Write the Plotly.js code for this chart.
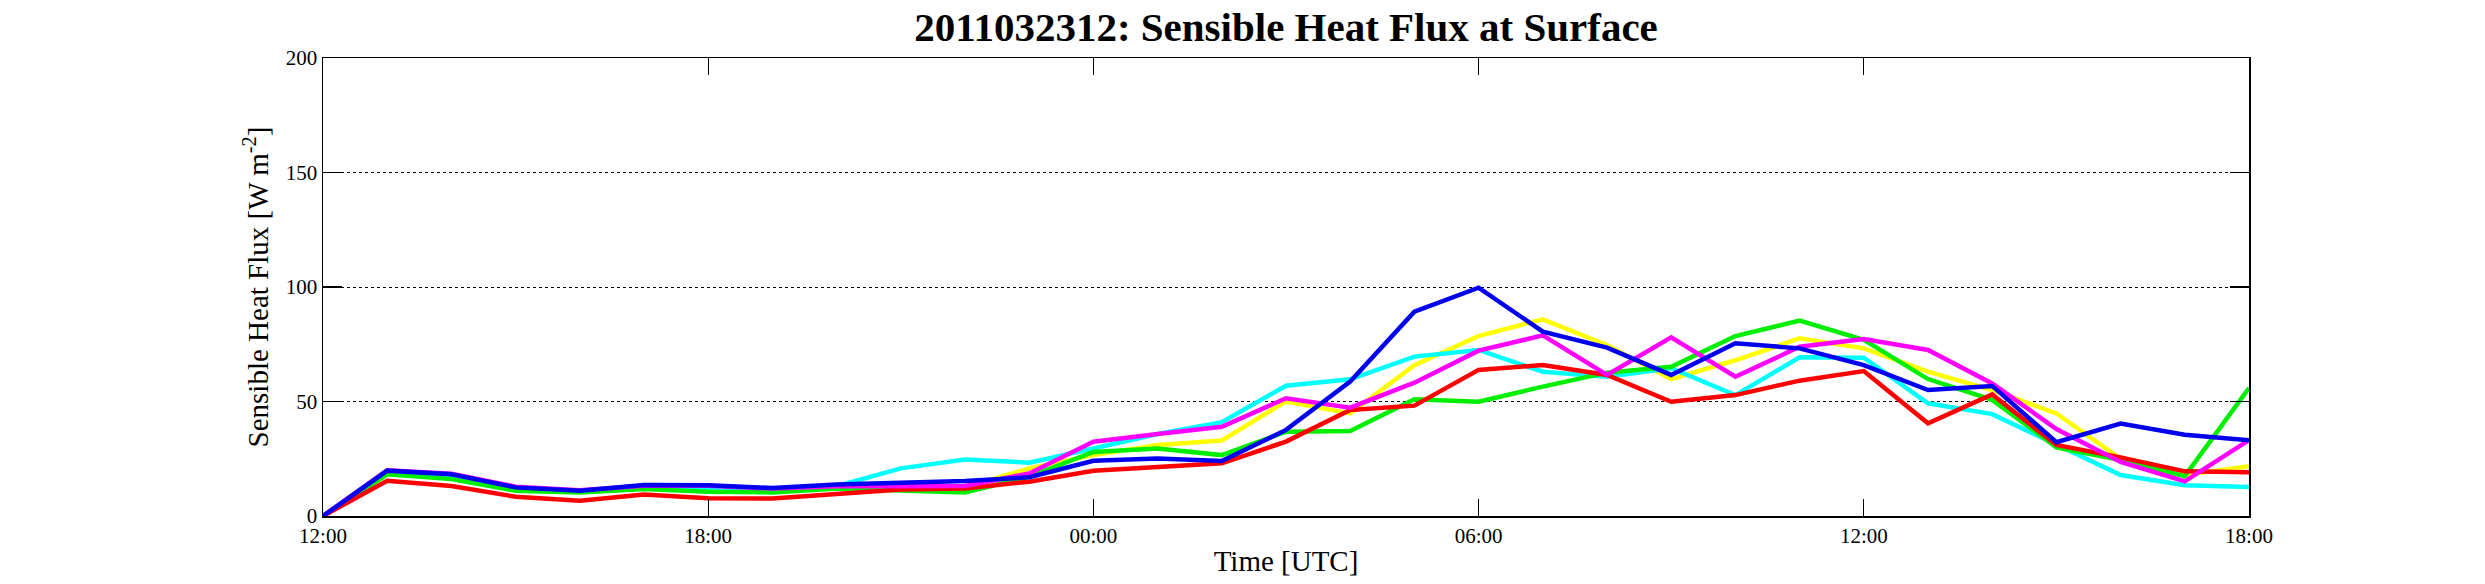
<!DOCTYPE html>
<html>
<head>
<meta charset="utf-8">
<script src="https://cdn.plot.ly/plotly-3.0.1.min.js"></script>
<style>
  html, body { margin: 0; padding: 0; background: #fff; }
  #graph { width: 2485px; height: 584px; }
</style>
</head>
<body>
<div id="graph"></div>
<script>
// hourly values, 2011-03-23 12:00 .. 2011-03-24 18:00 (31 points)
var startTime = "2011-03-23 12:00";
var endTime = "2011-03-24 18:00";
var hoursCount = 31;

var yellowFlux = [0, 18.5, 16.5, 11.5, 10.5, 12, 11, 10.5, 12.5, 12, 12.5, 20.8, 26.6, 31, 33,
    50, 44.8, 65.9, 78.6, 85.9, 74.7, 59.8, 68, 77.6, 73.2, 63, 55, 44.8, 25, 17.9, 21.7];
var cyanFlux = [0, 19, 17, 12, 10.8, 12.5, 12, 11, 13, 20.8, 24.7, 23.3, 29.5, 35.8, 41,
    56.9, 59.7, 69.6, 72.5, 63, 60.8, 64.5, 52.8, 69.3, 69.1, 49.2, 44.5, 31, 17.9, 13.4, 12.7];
var greenFlux = [0, 18.2, 16.1, 11, 10.3, 11.8, 10.6, 10.3, 12, 11.3, 10.3, 17.2, 28, 29.5, 26.6,
    36.8, 37.1, 51, 49.9, 56.5, 62.6, 65.2, 78.6, 85.3, 76.9, 59.8, 50.7, 30, 24.4, 17.4, 55.9];
var redFlux = [0, 15.4, 13.1, 8.4, 6.7, 9.4, 7.8, 7.6, 9.6, 11.6, 12, 15, 19.8, 21.2, 23,
    32.5, 46.3, 48.2, 63.8, 65.9, 61.6, 49.9, 52.8, 59.1, 63.3, 40.5, 53.1, 31, 25.6, 19.5, 19.1];
var magentaFlux = [0, 20, 18.5, 12.8, 11.2, 13.2, 13.2, 12, 13, 13, 13.1, 18.6, 32.4, 35.8, 39,
    51.4, 47.3, 58.2, 72.2, 78.9, 61.6, 78, 60.8, 73.9, 77.3, 72.5, 57.9, 38, 23.6, 15.1, 33.1];
var blueFlux = [0, 19.8, 18.2, 12.5, 11, 13.5, 13.4, 12.2, 13.8, 14.5, 15.3, 16.9, 24.1, 25.1, 24,
    37.6, 58.7, 89.2, 99.7, 80.5, 73.5, 61.6, 75.4, 73.2, 65.9, 55, 56.8, 32.2, 40.4, 35.5, 33.1];

var yTicks = [0, 50, 100, 150, 200];

function getTimeList() {
    let t0 = new Date(2011, 2, 23, 12, 0, 0);
    let list = [];
    for (let i = 0; i < hoursCount; i++) {
        let d = new Date(t0.getTime() + i * 3600 * 1000);
        let pad = n => (n < 10 ? '0' : '') + n;
        list.push(d.getFullYear() + '-' + pad(d.getMonth() + 1) + '-' + pad(d.getDate()) +
            ' ' + pad(d.getHours()) + ':00');
    }
    return list;
}

function makeLine(values, color) {
    return {
        x: getTimeList(),
        y: values,
        type: 'scatter',
        mode: 'lines',
        line: { color: color, width: 4.5 },
        hoverinfo: 'skip'
    };
}

var data = [
    makeLine(yellowFlux, '#ffff00'),
    makeLine(cyanFlux, '#00ffff'),
    makeLine(greenFlux, '#00ee00'),
    makeLine(redFlux, '#ff0000'),
    makeLine(magentaFlux, '#ff00ff'),
    makeLine(blueFlux, '#0000ee')
];

var font = 'Liberation Serif, Times New Roman, serif';

var layout = {
    width: 2485,
    height: 584,
    showlegend: false,
    paper_bgcolor: '#ffffff',
    plot_bgcolor: '#ffffff',
    margin: { l: 323, r: 236, t: 58, b: 68 },
    title: {
        text: '2011032312: Sensible Heat Flux at Surface',
        font: { family: font, size: 41, color: '#000', weight: 'bold' },
        x: 0.5, xref: 'paper', xanchor: 'center',
        y: 1 - 27 / 584, yref: 'container', yanchor: 'middle'
    },
    xaxis: {
        type: 'date',
        range: [startTime, endTime],
        dtick: 6 * 3600 * 1000,
        tick0: startTime,
        tickformat: '%H:%M',
        ticks: 'inside',
        ticklen: 17,
        tickwidth: 1.2,
        tickcolor: '#000',
        showline: true,
        linecolor: '#000',
        linewidth: 1.5,
        mirror: 'ticks',
        showgrid: false,
        zeroline: false,
        tickfont: { family: font, size: 21, color: '#000' },
        title: {
            text: 'Time [UTC]',
            font: { family: font, size: 29, color: '#000' },
            standoff: 4
        }
    },
    yaxis: {
        range: [0, 200],
        tickvals: yTicks,
        ticktext: yTicks.map(String),
        ticks: 'inside',
        ticklen: 19,
        tickwidth: 1.2,
        tickcolor: '#000',
        showline: true,
        linecolor: '#000',
        linewidth: 1.5,
        mirror: 'ticks',
        showgrid: true,
        gridcolor: '#000',
        gridwidth: 1,
        griddash: 'dot',
        zeroline: false,
        tickfont: { family: font, size: 21, color: '#000' },
        title: {
            text: 'Sensible Heat Flux [W m<sup>-2</sup>]',
            font: { family: font, size: 29, color: '#000' },
            standoff: 8
        }
    }
};

Plotly.newPlot('graph', data, layout, { staticPlot: true });
</script>
</body>
</html>
